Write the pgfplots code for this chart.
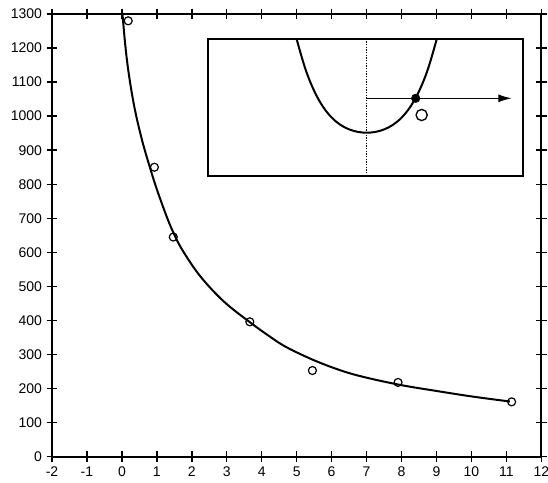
\documentclass[border=0pt]{standalone}
\usepackage{pgfplots}
\pgfplotsset{compat=1.18}
\usepackage{fontspec}
\setmainfont{Liberation Sans}
\usetikzlibrary{arrows.meta}

\begin{document}
\begin{tikzpicture}
\begin{axis}[
    name=main,
    scale only axis,
    width=367pt,
    height=332pt,
    xmin=-2, xmax=12,
    ymin=0, ymax=1300,
    xtick={-2,-1,...,12},
    ytick={0,100,...,1300},
    tick align=center,
    major tick length=8pt,
    axis line style={line width=1.4pt},
    every tick/.style={line width=1.1pt, black},
    ticklabel style={font=\fontsize{10.5}{12}\selectfont},
    /pgf/number format/assume math mode=true,
    /pgf/number format/1000 sep={},
    clip=true,
]
% fitted curve
\addplot[black, line width=1.5pt, smooth, tension=0.6] coordinates {
    (0.0,1320) (0.1,1205) (0.21,1115) (0.37,1020) (0.58,928) (0.8,850)
    (1.0,785) (1.3,700) (1.5,652) (1.7,612) (2.1,549) (2.5,499) (3.0,448)
    (3.66,395) (4.2,355) (4.7,322) (5.5,283) (6.3,252) (7.0,232)
    (8.0,210) (9.0,193) (10.0,177) (11.1,162)
};
% measured points
\addplot[only marks, mark=o, mark size=3pt, black,
    mark options={line width=0.9pt, fill=white}] coordinates {
    (0.18,1280) (0.93,850) (1.47,645) (3.66,396) (5.45,253) (7.9,218) (11.15,161)
};
\end{axis}

% inset
\begin{axis}[
    at={(main.south west)}, anchor=south west,
    xshift=117.2pt, yshift=210.5pt,
    scale only axis,
    width=235.8pt,
    height=102.5pt,
    xmin=-4.526, xmax=4.457,
    ymin=0, ymax=3.905,
    xtick=\empty, ytick=\empty,
    axis line style={line width=1.3pt},
    clip=true,
]
\addplot[black, densely dotted, line width=1pt] coordinates {(0,0) (0,3.905)};
\addplot[black, line width=1.5pt, smooth, tension=0.6] coordinates {
    (-2.05,4.106) (-2.0,3.905) (-1.75,3.055) (-1.5,2.431) (-1.25,1.982)
    (-1.0,1.671) (-0.75,1.462) (-0.5,1.332) (-0.25,1.260) (0,1.238)
    (0.25,1.260) (0.5,1.332) (0.75,1.462) (1.0,1.671) (1.25,1.982)
    (1.5,2.431) (1.75,3.055) (2.0,3.905) (2.05,4.106)
};
\addplot[black, line width=0.9pt, -{Latex[length=10pt,width=6pt]}] coordinates {(0,2.22) (4.14,2.22)};
\addplot[only marks, mark=*, mark size=3.2pt, black] coordinates {(1.40,2.22)};
\addplot[only marks, mark=o, mark size=4.2pt, black,
    mark options={line width=1pt}] coordinates {(1.571,1.743)};
\end{axis}

\pgfresetboundingbox
\path[use as bounding box] (main.south west) ++(-39pt,-19.7pt) rectangle ++(411pt,362.2pt);
\end{tikzpicture}
\end{document}
